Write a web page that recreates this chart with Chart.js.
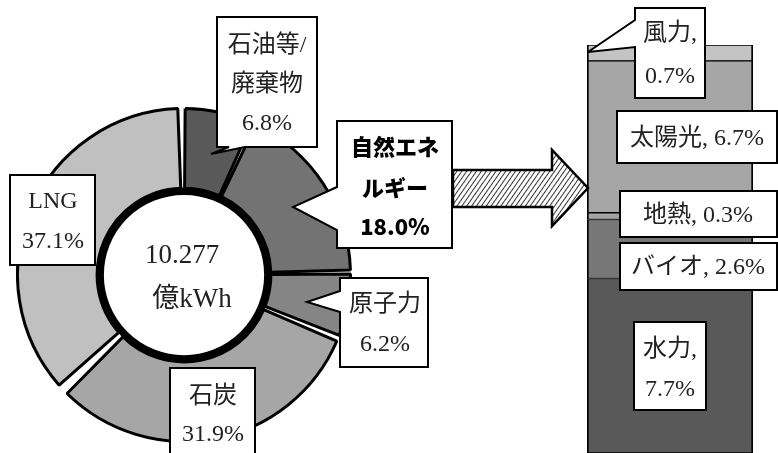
<!DOCTYPE html>
<html>
<head>
<meta charset="utf-8">
<script src="https://cdn.jsdelivr.net/npm/chart.js@4"></script>
<style>
  html, body { margin: 0; padding: 0; background: #fff; }
  #wrap { position: relative; width: 778px; height: 453px; overflow: hidden; background: #fff; }
  canvas { position: absolute; }
  #mix { left: 16px; top: 107px; }
  #renew { left: 585px; top: 43px; }
  #overlay { position: absolute; left: 0; top: 0; pointer-events: none; }
  .lbl { font-family: 'Liberation Serif', 'Noto Sans CJK JP', serif; font-size: 24px; fill: #222; }
  .ctr { font-family: 'Liberation Serif', 'Noto Sans CJK JP', serif; font-size: 27px; fill: #222; }
  .bold { font-family: 'Noto Sans CJK JP', sans-serif; font-weight: 900; font-size: 22px; fill: #000; }
</style>
</head>
<body>
<div id="wrap">
  <canvas id="mix" width="336" height="336"></canvas>
  <canvas id="renew" width="170" height="412"></canvas>
  <svg id="overlay" width="778" height="453" xmlns="http://www.w3.org/2000/svg"></svg>
</div>
<script>
// ---- data ----
const mixCategories = ['石油等/廃棄物', '自然エネルギー', '原子力', '石炭', 'LNG'];
const mixShares = [6.8, 18.0, 6.2, 31.9, 37.1];
const renewCategories = ['水力', 'バイオ', '地熱', '太陽光', '風力'];
const renewShares = [7.7, 2.6, 0.3, 6.7, 0.7];
const totalGeneration = '10.277';
const totalUnit = '億kWh';

// ---- styles ----
const mixColors = ['#595959', '#737373', '#858585', '#a6a6a6', '#c0c0c0'];
const renewColors = ['#595959', '#777777', '#a3a3a3', '#a6a6a6', '#c4c4c4'];

Chart.defaults.animation = false;
Chart.defaults.devicePixelRatio = 1;

const innerRing = {
  id: 'innerRing',
  afterDatasetsDraw(chart) {
    const arc = chart.getDatasetMeta(0).data[0];
    if (!arc) return;
    const ctx = chart.ctx;
    ctx.save();
    ctx.beginPath();
    ctx.arc(arc.x, arc.y, arc.innerRadius + 1, 0, Math.PI * 2);
    ctx.fillStyle = '#fff';
    ctx.fill();
    ctx.lineWidth = 7.5;
    ctx.strokeStyle = '#000';
    ctx.stroke();
    ctx.restore();
  }
};

new Chart(document.getElementById('mix'), {
  type: 'doughnut',
  data: {
    labels: mixCategories,
    datasets: [{
      data: mixShares,
      backgroundColor: mixColors,
      borderColor: '#000',
      borderWidth: 3,
      spacing: 8
    }]
  },
  options: {
    responsive: false,
    cutout: '51%',
    layout: { padding: 0 },
    plugins: { legend: { display: false }, tooltip: { enabled: false } }
  },
  plugins: [innerRing]
});

const renewTotal = renewShares.reduce((a, b) => a + b, 0);
new Chart(document.getElementById('renew'), {
  type: 'bar',
  data: {
    labels: ['自然エネルギー'],
    datasets: renewCategories.map((name, i) => ({
      label: name,
      data: [renewShares[i]],
      backgroundColor: renewColors[i],
      borderColor: '#000',
      borderWidth: { top: 1, bottom: 1, left: 2, right: 2 },
      borderSkipped: false,
      barPercentage: 1,
      categoryPercentage: 1
    }))
  },
  options: {
    responsive: false,
    layout: { padding: { left: 2, right: 2, top: 2, bottom: 2 } },
    scales: {
      x: { stacked: true, display: false },
      y: { stacked: true, display: false, min: 0, max: Math.round(renewTotal * 10) / 10 }
    },
    plugins: { legend: { display: false }, tooltip: { enabled: false } }
  }
});

// ---- overlay: arrow and callouts ----
const svg = document.getElementById('overlay');
const NS = 'http://www.w3.org/2000/svg';
function el(tag, attrs, text) {
  const e = document.createElementNS(NS, tag);
  for (const k in attrs) e.setAttribute(k, attrs[k]);
  if (text !== undefined) e.textContent = text;
  svg.appendChild(e);
  return e;
}
const pct = v => v.toFixed(1) + '%';

// hatch pattern
const defs = el('defs', {});
const pat = document.createElementNS(NS, 'pattern');
pat.setAttribute('id', 'hatch');
pat.setAttribute('patternUnits', 'userSpaceOnUse');
pat.setAttribute('width', '4');
pat.setAttribute('height', '4');
pat.setAttribute('patternTransform', 'rotate(35)');
const pr = document.createElementNS(NS, 'rect');
pr.setAttribute('width', '4'); pr.setAttribute('height', '4'); pr.setAttribute('fill', '#fff');
const pl = document.createElementNS(NS, 'line');
pl.setAttribute('x1', '0'); pl.setAttribute('y1', '0'); pl.setAttribute('x2', '0'); pl.setAttribute('y2', '4');
pl.setAttribute('stroke', '#000'); pl.setAttribute('stroke-width', '1.6');
pat.appendChild(pr); pat.appendChild(pl); defs.appendChild(pat);

el('polygon', {
  points: '453,170 552,170 552,150 588,188 552,226 552,207 453,207',
  fill: 'url(#hatch)', stroke: '#000', 'stroke-width': 2.5, 'stroke-linejoin': 'miter'
});

function callout(b) {
  const { x, y, w, h, tail } = b;
  let d;
  if (tail && tail.side === 'left') {
    d = `M${x},${y} L${x + w},${y} L${x + w},${y + h} L${x},${y + h} L${x},${tail.b} L${tail.tip[0]},${tail.tip[1]} L${x},${tail.a} Z`;
  } else if (tail && tail.side === 'bottom') {
    d = `M${x},${y} L${x + w},${y} L${x + w},${y + h} L${tail.b},${y + h} L${tail.tip[0]},${tail.tip[1]} L${tail.a},${y + h} L${x},${y + h} Z`;
  } else {
    d = `M${x},${y} L${x + w},${y} L${x + w},${y + h} L${x},${y + h} Z`;
  }
  el('path', { d, fill: '#fff', stroke: '#000', 'stroke-width': 2 });
  b.lines.forEach((t, i) => {
    el('text', {
      x: b.cx, y: b.ly[i], 'text-anchor': 'middle', 'dominant-baseline': 'central',
      class: b.cls || 'lbl'
    }, t);
  });
}

const callouts = [
  { x: 217, y: 17, w: 100, h: 130, tail: { side: 'bottom', a: 229, b: 245, tip: [211, 154] },
    cx: 267, ly: [44, 83, 122], lines: ['石油等/', '廃棄物', pct(mixShares[0])] },
  { x: 337, y: 121, w: 115, h: 127, tail: { side: 'left', a: 187, b: 230, tip: [293, 207] },
    cx: 395, ly: [145, 186, 225], lines: ['自然エネ', 'ルギー', pct(mixShares[1])], cls: 'bold' },
  { x: 340, y: 278, w: 88, h: 89, tail: { side: 'left', a: 291, b: 312, tip: [307, 302] },
    cx: 385, ly: [303, 343], lines: [mixCategories[2], pct(mixShares[2])] },
  { x: 170, y: 368, w: 85, h: 100,
    cx: 213, ly: [395, 433], lines: [mixCategories[3], pct(mixShares[3])] },
  { x: 10, y: 175, w: 85, h: 90,
    cx: 53, ly: [200, 240], lines: [mixCategories[4], pct(mixShares[4])] },
  { x: 635, y: 8, w: 70, h: 90, tail: { side: 'left', a: 20, b: 47, tip: [588, 52] },
    cx: 670, ly: [32, 75], lines: [renewCategories[4] + ',', pct(renewShares[4])] },
  { x: 617, y: 111, w: 160, h: 52,
    cx: 697, ly: [137], lines: [renewCategories[3] + ', ' + pct(renewShares[3])] },
  { x: 620, y: 191, w: 157, h: 46,
    cx: 698, ly: [214], lines: [renewCategories[2] + ', ' + pct(renewShares[2])] },
  { x: 620, y: 243, w: 157, h: 47,
    cx: 698, ly: [266], lines: [renewCategories[1] + ', ' + pct(renewShares[1])] },
  { x: 634, y: 322, w: 72, h: 88,
    cx: 670, ly: [348, 388], lines: [renewCategories[0] + ',', pct(renewShares[0])] }
];
callouts.forEach(callout);

el('text', { x: 182, y: 254, 'text-anchor': 'middle', 'dominant-baseline': 'central', class: 'ctr' }, totalGeneration);
el('text', { x: 192, y: 298, 'text-anchor': 'middle', 'dominant-baseline': 'central', class: 'ctr' }, totalUnit);
</script>
</body>
</html>
